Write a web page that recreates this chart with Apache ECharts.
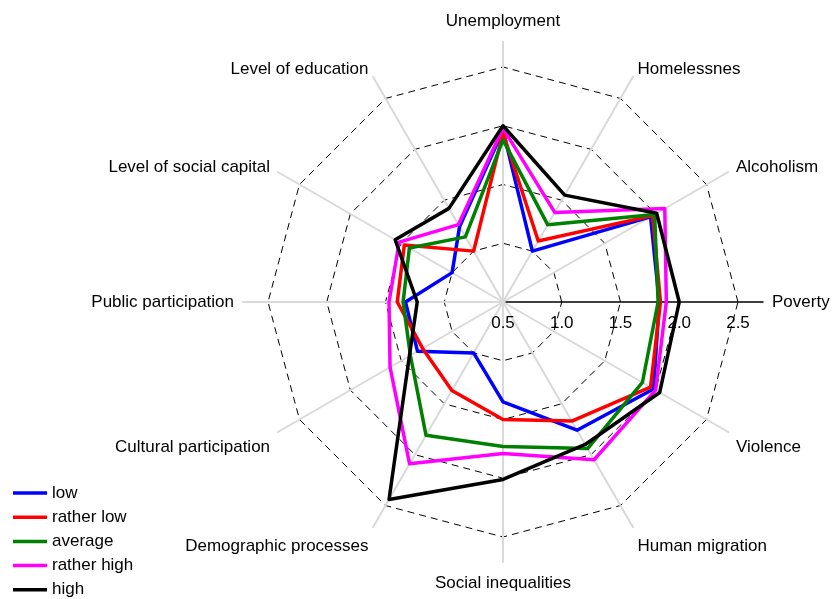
<!DOCTYPE html>
<html lang="en">
<head>
    <meta charset="UTF-8">
    <title>Radar</title>
    <script src="https://cdn.jsdelivr.net/npm/echarts@6/dist/echarts.min.js"></script>
    <style>
        html, body { margin: 0; padding: 0; background: #fff; }
        #main { width: 838px; height: 599px; }
    </style>
</head>
<body>
<div id="main"></div>
<script>
    // indicators, counter-clockwise from the right
    var indicators = ['Poverty', 'Alcoholism', 'Homelessnes', 'Unemployment', 'Level of education',
        'Level of social capital', 'Public participation', 'Cultural participation',
        'Demographic processes', 'Social inequalities', 'Human migration', 'Violence'];

    var seriesNames = ['low', 'rather low', 'average', 'rather high', 'high'];
    var seriesColors = ['#0000ff', '#ff0000', '#008000', '#ff00ff', '#000000'];

    var low = [1.83, 1.95, 1.00, 1.96, 1.24, 1.00, 1.33, 1.34, 1.00, 1.35, 1.76, 1.98];
    var ratherLow = [1.84, 1.97, 1.10, 1.94, 1.00, 1.47, 1.40, 1.29, 1.37, 1.50, 1.67, 1.95];
    var average = [1.82, 1.99, 1.26, 1.88, 1.14, 1.42, 1.35, 1.41, 1.81, 1.73, 1.94, 1.87];
    var ratherHigh = [1.89, 2.09, 1.38, 1.98, 1.26, 1.52, 1.47, 1.61, 2.09, 1.79, 2.05, 2.00];
    var high = [2.00, 2.01, 1.55, 2.00, 1.42, 1.56, 1.23, 1.42, 2.44, 2.01, 1.90, 2.04];
    var allValues = [low, ratherLow, average, ratherHigh, high];

    var axisMin = 0.5;
    var axisMax = 2.5;
    var axisInterval = 0.5;

    var font = "'Liberation Sans', Arial, sans-serif";

    // name nudges so they sit where the original puts them
    var nameStyleOf = {
        'Unemployment': 'top',
        'Social inequalities': 'bottom',
        'Cultural participation': 'low',
        'Demographic processes': 'low',
        'Human migration': 'low',
        'Violence': 'low'
    };

    var myChart = echarts.init(document.getElementById('main'));

    // outer radar: spokes + names
    var frameIndicator = indicators.map(function (name, i) {
        var ind = {name: name, min: axisMin, max: axisMax};
        if (i === 0) {
            ind.axisLine = {lineStyle: {color: '#000', width: 1.5}};
        }
        return ind;
    });

    // inner radar: dashed rings, tick labels, data
    var dataIndicator = indicators.map(function (name, i) {
        var ind = {name: name, min: axisMin, max: axisMax};
        if (i === 0) {
            ind.axisLabel = {show: true};
        }
        return ind;
    });

    var series = seriesNames.map(function (name, i) {
        return {
            name: name,
            type: 'radar',
            radarIndex: 1,
            symbol: 'none',
            lineStyle: {width: 3.5, color: seriesColors[i]},
            itemStyle: {color: seriesColors[i]},
            emphasis: {disabled: true},
            data: [{name: name, value: allValues[i]}]
        };
    });

    var option = {
        animation: false,
        textStyle: {fontFamily: font},
        legend: {
            orient: 'vertical',
            left: 13,
            top: 484,
            padding: 0,
            icon: 'rect',
            itemWidth: 34,
            itemHeight: 3.5,
            itemGap: 6.2,
            textStyle: {fontSize: 17, color: '#000', fontFamily: font, lineHeight: 18},
            data: seriesNames
        },
        radar: [
            {
                center: [503, 302],
                radius: 260,
                startAngle: 0,
                shape: 'polygon',
                splitNumber: 4,
                indicator: frameIndicator,
                axisName: {
                    color: '#000',
                    fontSize: 17,
                    fontFamily: font,
                    formatter: function (name) {
                        var s = nameStyleOf[name];
                        return s ? '{' + s + '|' + name + '}' : name;
                    },
                    rich: {
                        low: {color: '#000', fontSize: 17, fontFamily: font, padding: [22, 0, 0, 0]},
                        top: {color: '#000', fontSize: 17, fontFamily: font, padding: [0, 0, 3, 0]},
                        bottom: {color: '#000', fontSize: 17, fontFamily: font, padding: [4, 0, 0, 0]}
                    }
                },
                axisNameGap: 9,
                axisLine: {lineStyle: {color: '#d9d9d9', width: 2}},
                splitLine: {show: false},
                splitArea: {show: false},
                axisTick: {show: false},
                axisLabel: {show: false}
            },
            {
                center: [503, 302],
                radius: 235,
                startAngle: 0,
                shape: 'polygon',
                splitNumber: (axisMax - axisMin) / axisInterval,
                indicator: dataIndicator,
                axisName: {show: false},
                axisLine: {show: false},
                splitLine: {lineStyle: {color: '#000', width: 1, type: [7, 5]}},
                splitArea: {show: false},
                axisTick: {show: false},
                axisLabel: {
                    show: false,
                    color: '#000',
                    fontSize: 17,
                    fontFamily: font,
                    margin: -13,
                    verticalAlign: 'top',
                    align: 'center',
                    formatter: function (v) { return v.toFixed(1); }
                }
            }
        ],
        series: series
    };

    myChart.setOption(option);
</script>
</body>
</html>
